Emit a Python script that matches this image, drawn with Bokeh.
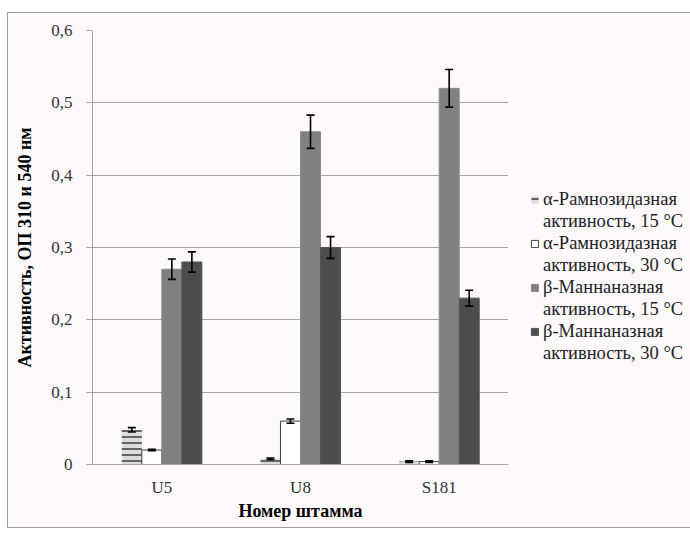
from bokeh.plotting import figure
from bokeh.models import (ColumnDataSource, FactorRange, FixedTicker, Legend, LegendItem,
                          Whisker, TeeHead)
from bokeh.transform import dodge
from bokeh.embed import file_html
from bokeh.resources import INLINE

# Strains and measured activities (OD 310 / 540 nm) with their errors
strains = ["U5", "U8", "S181"]
rham_15 = [0.048, 0.008, 0.004]
rham_15_err = [0.003, 0.001, 0.001]
rham_30 = [0.020, 0.060, 0.004]
rham_30_err = [0.001, 0.003, 0.001]
mann_15 = [0.27, 0.46, 0.52]
mann_15_err = [0.014, 0.023, 0.026]
mann_30 = [0.28, 0.30, 0.23]
mann_30_err = [0.014, 0.015, 0.011]

# Legend text, one pair of lines per series
series_labels = [
    ("α-Рамнозидазная", "активность, 15 °C"),
    ("α-Рамнозидазная", "активность, 30 °C"),
    ("β-Маннаназная", "активность, 15 °C"),
    ("β-Маннаназная", "активность, 30 °C"),
]
y_ticks = [0.0, 0.1, 0.2, 0.3, 0.4, 0.5, 0.6]
y_tick_labels = ["0", "0,1", "0,2", "0,3", "0,4", "0,5", "0,6"]

FONT = "'Liberation Serif', 'Times New Roman', serif"
BG = "#fdf9fd"
GRID = "#a6a6a6"

p = figure(
    x_range=FactorRange(*strains, range_padding=0), y_range=(0, 0.6),
    frame_width=416, frame_height=434,
    min_border_left=84, min_border_top=17, min_border_bottom=63, min_border_right=182,
    output_backend="svg", toolbar_location=None,
    background_fill_color=BG, border_fill_color=BG,
    margin=(12, 0, 0, 7),
    styles={"border-left": "1px solid #9c9c9c", "border-top": "1px solid #9c9c9c",
            "border-bottom": "1px solid #9c9c9c"},
)
p.outline_line_color = None
p.xgrid.grid_line_color = None
p.ygrid.grid_line_color = GRID
p.ygrid.ticker = FixedTicker(ticks=y_ticks)

bar_w = 0.1444
offsets = [-1.5 * bar_w, -0.5 * bar_w, 0.5 * bar_w, 1.5 * bar_w]
values = [rham_15, rham_30, mann_15, mann_30]
errors = [rham_15_err, rham_30_err, mann_15_err, mann_30_err]
styles = [
    dict(fill_color="#dcdcdc", line_color=None, hatch_pattern="horizontal_line",
         hatch_color="#3c3c3c", hatch_scale=6, hatch_weight=2, hatch_alpha=0.75),
    dict(fill_color="white", line_color="#404040", line_width=1),
    dict(fill_color="#808080", line_color="#8a8a8a", line_width=1),
    dict(fill_color="#4d4d4d", line_color="#555555", line_width=1),
]

# Empty, transparent renderer used for the second text line of each legend entry
blank = p.vbar(x=[], top=[], width=bar_w, fill_alpha=0, line_alpha=0)

items = []
for vals, errs, off, st, (line1, line2) in zip(values, errors, offsets, styles, series_labels):
    src = ColumnDataSource(dict(
        strain=strains, value=vals,
        upper=[v + e for v, e in zip(vals, errs)],
        lower=[v - e for v, e in zip(vals, errs)],
    ))
    x = dodge("strain", off, range=p.x_range)
    r = p.vbar(x=x, top="value", bottom=0, width=bar_w, source=src, **st)
    w = Whisker(base=x, upper="upper", lower="lower", source=src, level="overlay",
                line_color="black", line_width=1.6,
                upper_head=TeeHead(size=8, line_color="black", line_width=1.6),
                lower_head=TeeHead(size=8, line_color="black", line_width=1.6))
    p.add_layout(w)
    items.append(LegendItem(label=line1, renderers=[r]))
    items.append(LegendItem(label=line2, renderers=[blank]))

# Axes
p.yaxis.ticker = FixedTicker(ticks=y_ticks)
p.yaxis.major_label_overrides = {t: l for t, l in zip(y_ticks, y_tick_labels)}
p.yaxis.axis_line_color = GRID
p.yaxis.major_tick_line_color = GRID
p.yaxis.major_tick_out = 6
p.yaxis.major_tick_in = 0
p.yaxis.minor_tick_line_color = None
p.yaxis.major_label_standoff = 14
p.yaxis.axis_label = "Активность, ОП 310 и 540 нм"
p.yaxis.axis_label_standoff = 13

p.xaxis.axis_line_color = GRID
p.xaxis.major_tick_line_color = None
p.xaxis.major_tick_out = 0
p.xaxis.major_tick_in = 0
p.xaxis.minor_tick_line_color = None
p.xaxis.major_label_standoff = 13
p.xaxis.axis_label = "Номер штамма"
p.xaxis.axis_label_standoff = 1

for ax in (p.xaxis, p.yaxis):
    ax.major_label_text_font = FONT
    ax.major_label_text_font_size = "17px"
    ax.major_label_text_color = "#333333"
    ax.axis_label_text_font = FONT
    ax.axis_label_text_font_size = "18px"
    ax.axis_label_text_font_style = "bold"
    ax.axis_label_text_color = "black"

legend = Legend(items=items, location=(22, 100), orientation="vertical")
legend.background_fill_alpha = 0
legend.border_line_color = None
legend.label_text_font = FONT
legend.label_text_font_size = "18.5px"
legend.label_text_color = "#222222"
legend.label_height = 20
legend.glyph_width = 9
legend.glyph_height = 9
legend.label_standoff = 4
legend.spacing = 1
legend.padding = 4
legend.margin = 0
p.add_layout(legend, "right")

open("out.html", "w").write(file_html(p, INLINE))
